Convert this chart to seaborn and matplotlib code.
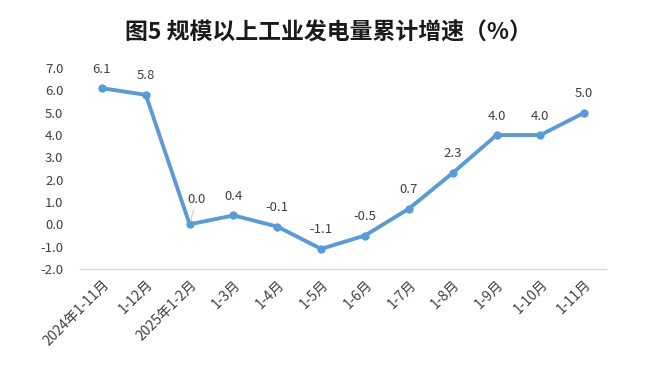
import matplotlib
matplotlib.use("Agg")
import matplotlib.pyplot as plt
import seaborn as sns
import pandas as pd

categories = ["2024年1-11月", "1-12月", "2025年1-2月", "1-3月", "1-4月", "1-5月",
              "1-6月", "1-7月", "1-8月", "1-9月", "1-10月", "1-11月"]
values = [6.1, 5.8, 0.0, 0.4, -0.1, -1.1, -0.5, 0.7, 2.3, 4.0, 4.0, 5.0]
yticks = [-2.0, -1.0, 0.0, 1.0, 2.0, 3.0, 4.0, 5.0, 6.0, 7.0]
title = "图5 规模以上工业发电量累计增速（%）"

sns.set_theme(style="white")
plt.rcParams['font.family'] = ['Noto Sans CJK SC', 'DejaVu Sans']

df = pd.DataFrame({"cat": categories, "val": values, "x": range(len(categories))})

fig = plt.figure(figsize=(6.56, 3.70), dpi=100)
ax = fig.add_axes([0.122, 0.273, 0.802, 0.543])
sns.lineplot(data=df, x="x", y="val", ax=ax, color="#5B9BD5", linewidth=2.8,
             marker="o", markersize=6, markeredgewidth=0)

ax.set_xlim(-0.5, len(categories) - 0.5)
ax.set_ylim(-2.0, 7.0)
ax.set_yticks(yticks)
ax.set_yticklabels([f"{v:.1f}" for v in yticks], fontsize=9.5, color="#404040")
ax.set_xticks(range(len(categories)))
ax.set_xticklabels(categories, rotation=45, ha="right", rotation_mode="anchor",
                   fontsize=10, color="#404040")
ax.tick_params(axis="y", length=0, pad=12)
ax.tick_params(axis="x", length=0, pad=6)
ax.set_xlabel("")
ax.set_ylabel("")
for s in ["top", "right", "left"]:
    ax.spines[s].set_visible(False)
ax.spines["bottom"].set_color("#D9D9D9")
ax.spines["bottom"].set_linewidth(1.0)

for i, v in enumerate(values):
    if v == 0.0:
        ax.annotate(f"{v:.1f}", xy=(i, v), xytext=(i + 0.15, v + 0.8), ha="center", va="bottom",
                    fontsize=9.5, color="#404040",
                    arrowprops=dict(arrowstyle="-", color="#BFBFBF", lw=0.6, shrinkA=0, shrinkB=2))
    else:
        ax.annotate(f"{v:.1f}", xy=(i, v), xytext=(0, 9), textcoords="offset points",
                    ha="center", va="bottom", fontsize=9.5, color="#404040")

fig.text(0.50, 0.91, title, ha="center", va="center", fontsize=16.5, fontweight="bold",
         color="#1a1a1a")

fig.savefig("out.png", dpi=100, facecolor="white")
